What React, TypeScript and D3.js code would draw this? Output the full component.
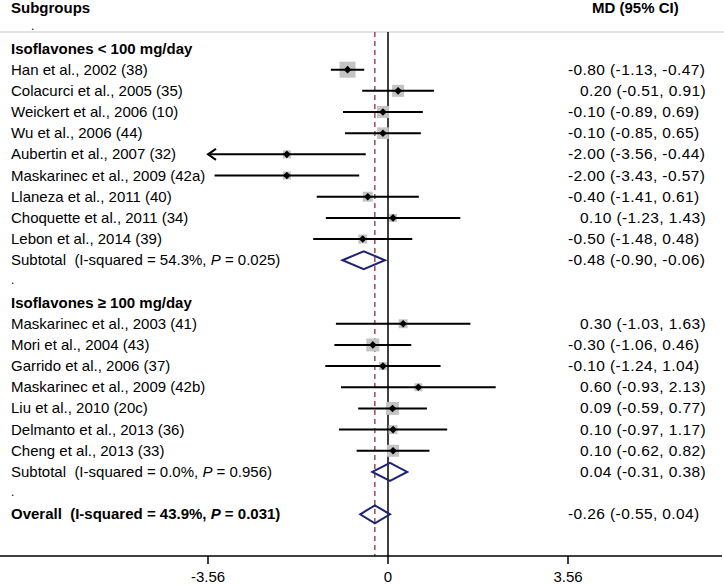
import React from "react";
import * as d3 from "d3";

const W = 724;
const H = 586;

// ---- data ----
type Row =
  | { kind: "head"; label: string }
  | { kind: "blank" }
  | { kind: "study"; label: string; md: number; lo: number; hi: number; w: number }
  | { kind: "sub"; label: string; i2: string; p: string; md: number; lo: number; hi: number; bold?: boolean };

const studyLabels1 = [
  "Han et al., 2002 (38)",
  "Colacurci et al., 2005 (35)",
  "Weickert et al., 2006 (10)",
  "Wu et al., 2006 (44)",
  "Aubertin et al., 2007 (32)",
  "Maskarinec et al., 2009 (42a)",
  "Llaneza et al., 2011 (40)",
  "Choquette et al., 2011 (34)",
  "Lebon et al., 2014 (39)",
];
const md1 = [-0.8, 0.2, -0.1, -0.1, -2.0, -2.0, -0.4, 0.1, -0.5];
const lo1 = [-1.13, -0.51, -0.89, -0.85, -3.56, -3.43, -1.41, -1.23, -1.48];
const hi1 = [-0.47, 0.91, 0.69, 0.65, -0.44, -0.57, 0.61, 1.43, 0.48];
const weights1 = [16, 9, 9, 8.5, 4, 4, 6.25, 4, 5];

const studyLabels2 = [
  "Maskarinec et al., 2003 (41)",
  "Mori et al., 2004 (43)",
  "Garrido et al., 2006 (37)",
  "Maskarinec et al., 2009 (42b)",
  "Liu et al., 2010 (20c)",
  "Delmanto et al., 2013 (36)",
  "Cheng et al., 2013 (33)",
];
const md2 = [0.3, -0.3, -0.1, 0.6, 0.09, 0.1, 0.1];
const lo2 = [-1.03, -1.06, -1.24, -0.93, -0.59, -0.97, -0.62];
const hi2 = [1.63, 0.46, 1.04, 2.13, 0.77, 1.17, 0.82];
const weights2 = [5, 10.5, 4, 4, 10.5, 5, 9];

const subgroupHeads = ["Isoflavones < 100 mg/day", "Isoflavones \u2265 100 mg/day"];
const subtotalMD = [-0.48, 0.04];
const subtotalLo = [-0.9, -0.31];
const subtotalHi = [-0.06, 0.38];
const subtotalI2 = ["54.3%", "0.0%"];
const subtotalP = ["0.025", "0.956"];

const overallMD = -0.26;
const overallLo = -0.55;
const overallHi = 0.04;
const overallI2 = "43.9%";
const overallP = "0.031";

const tickValues = [-3.56, 0, 3.56];
const xDomain = [-3.56, 3.56];

const rows: Row[] = [
  { kind: "head", label: subgroupHeads[0] },
  ...studyLabels1.map((l, i) => ({ kind: "study" as const, label: l, md: md1[i], lo: lo1[i], hi: hi1[i], w: weights1[i] })),
  { kind: "sub", label: "Subtotal", i2: subtotalI2[0], p: subtotalP[0], md: subtotalMD[0], lo: subtotalLo[0], hi: subtotalHi[0] },
  { kind: "blank" },
  { kind: "head", label: subgroupHeads[1] },
  ...studyLabels2.map((l, i) => ({ kind: "study" as const, label: l, md: md2[i], lo: lo2[i], hi: hi2[i], w: weights2[i] })),
  { kind: "sub", label: "Subtotal", i2: subtotalI2[1], p: subtotalP[1], md: subtotalMD[1], lo: subtotalLo[1], hi: subtotalHi[1] },
  { kind: "blank" },
  { kind: "sub", label: "Overall", i2: overallI2, p: overallP, md: overallMD, lo: overallLo, hi: overallHi, bold: true },
];

const locale = d3.formatLocale({ decimal: ".", thousands: ",", grouping: [3], currency: ["", ""], minus: "-" });
const fmt = locale.format(".2f");
const ciText = (md: number, lo: number, hi: number) => `${fmt(md)} (${fmt(lo)}, ${fmt(hi)})`;

export default function App() {
  const x = d3.scaleLinear().domain(xDomain).range([208, 568]);
  const y = d3.scaleLinear().domain([0, rows.length - 1]).range([48.5, 514.3]);
  const allW = [...weights1, ...weights2];
  const size = d3.scaleSqrt().domain([0, d3.max(allW) as number]).range([0, 16]);

  const font = "'Liberation Sans', Arial, Helvetica, sans-serif";
  const navy = "#1c2474";
  const dashCol = "#8e2e42";
  const topY = 32;
  const axisY = 556;
  const labelX = 11;
  const numX = 568;
  const fs = 15;

  return (
    <svg
      width={W}
      height={H}
      style={{ position: "absolute", left: 0, top: 0, background: "#fff" }}
      fontFamily={font}
    >
      <rect x={0} y={0} width={W} height={H} fill="#fff" />
      {/* header */}
      <text x={11} y={13} fontSize={15} fontWeight="bold" fill="#000">Subgroups</text>
      <text x={592} y={13} fontSize={15} fontWeight="bold" fill="#000">MD (95% CI)</text>
      <line x1={0} x2={W} y1={topY} y2={topY} stroke="#c8c8c8" strokeWidth={1.2} />
      <text x={31} y={30} fontSize={12} fill="#000">.</text>

      {/* reference lines */}
      <line x1={x(0)} x2={x(0)} y1={topY} y2={axisY} stroke="#000" strokeWidth={1.5} />
      <line
        x1={x(overallMD)}
        x2={x(overallMD)}
        y1={topY}
        y2={axisY}
        stroke={dashCol}
        strokeWidth={1.3}
        strokeDasharray="5,4"
      />

      {rows.map((r, i) => {
        const cy = y(i);
        if (r.kind === "blank") {
          return (
            <text key={i} x={labelX} y={cy + 3} fontSize={12} fill="#000">.</text>
          );
        }
        if (r.kind === "head") {
          return (
            <text key={i} x={labelX} y={cy + 5} fontSize={fs} fontWeight="bold" fill="#000">
              {r.label}
            </text>
          );
        }
        const numStart = numX + (r.md >= 0 ? 12 : 0);
        if (r.kind === "study") {
          const s = size(r.w);
          const clipped = r.lo <= xDomain[0];
          const x1 = x(Math.max(r.lo, xDomain[0]));
          const x2 = x(Math.min(r.hi, xDomain[1]));
          const cx = x(r.md);
          return (
            <g key={i}>
              <text x={labelX} y={cy + 5} fontSize={fs} fill="#000">{r.label}</text>
              <rect x={cx - s / 2} y={cy - s / 2} width={s} height={s} fill="#c4c4c4" />
              <line x1={x1} x2={x2} y1={cy} y2={cy} stroke="#000" strokeWidth={2} />
              {clipped && (
                <path
                  d={`M${x1 + 8},${cy - 5.5} L${x1},${cy} L${x1 + 8},${cy + 5.5}`}
                  fill="none"
                  stroke="#000"
                  strokeWidth={2}
                />
              )}
              <path
                d={`M${cx - 3.8},${cy} L${cx},${cy - 3.8} L${cx + 3.8},${cy} L${cx},${cy + 3.8} Z`}
                fill="#000"
              />
              <text x={numStart} y={cy + 5} fontSize={15.5} letterSpacing={0.4} fill="#000">
                {ciText(r.md, r.lo, r.hi)}
              </text>
            </g>
          );
        }
        // subtotal / overall
        const dx1 = x(r.lo);
        const dx2 = x(r.hi);
        const dc = x(r.md);
        const hh = 9;
        return (
          <g key={i}>
            <text
              x={labelX}
              y={cy + 5}
              fontSize={fs}
              fontWeight={r.bold ? "bold" : "normal"}
              fill="#000"
              style={{ whiteSpace: "pre" }}
            >
              {`${r.label}  (I-squared = ${r.i2}, `}
              <tspan fontStyle="italic">P</tspan>
              {` = ${r.p})`}
            </text>
            <path
              d={`M${dx1},${cy} L${dc},${cy - hh} L${dx2},${cy} L${dc},${cy + hh} Z`}
              fill="none"
              stroke={navy}
              strokeWidth={2}
            />
            <text x={numStart} y={cy + 5} fontSize={15.5} letterSpacing={0.4} fill="#000">
              {ciText(r.md, r.lo, r.hi)}
            </text>
          </g>
        );
      })}

      {/* axis */}
      <line x1={0} x2={722} y1={axisY} y2={axisY} stroke="#000" strokeWidth={1.5} />
      {tickValues.map((t) => (
        <g key={t}>
          <line x1={x(t)} x2={x(t)} y1={axisY} y2={axisY + 8} stroke="#000" strokeWidth={1.5} />
          <text x={x(t)} y={582} fontSize={15} textAnchor="middle" fill="#000">
            {t === 0 ? "0" : fmt(t)}
          </text>
        </g>
      ))}
    </svg>
  );
}
